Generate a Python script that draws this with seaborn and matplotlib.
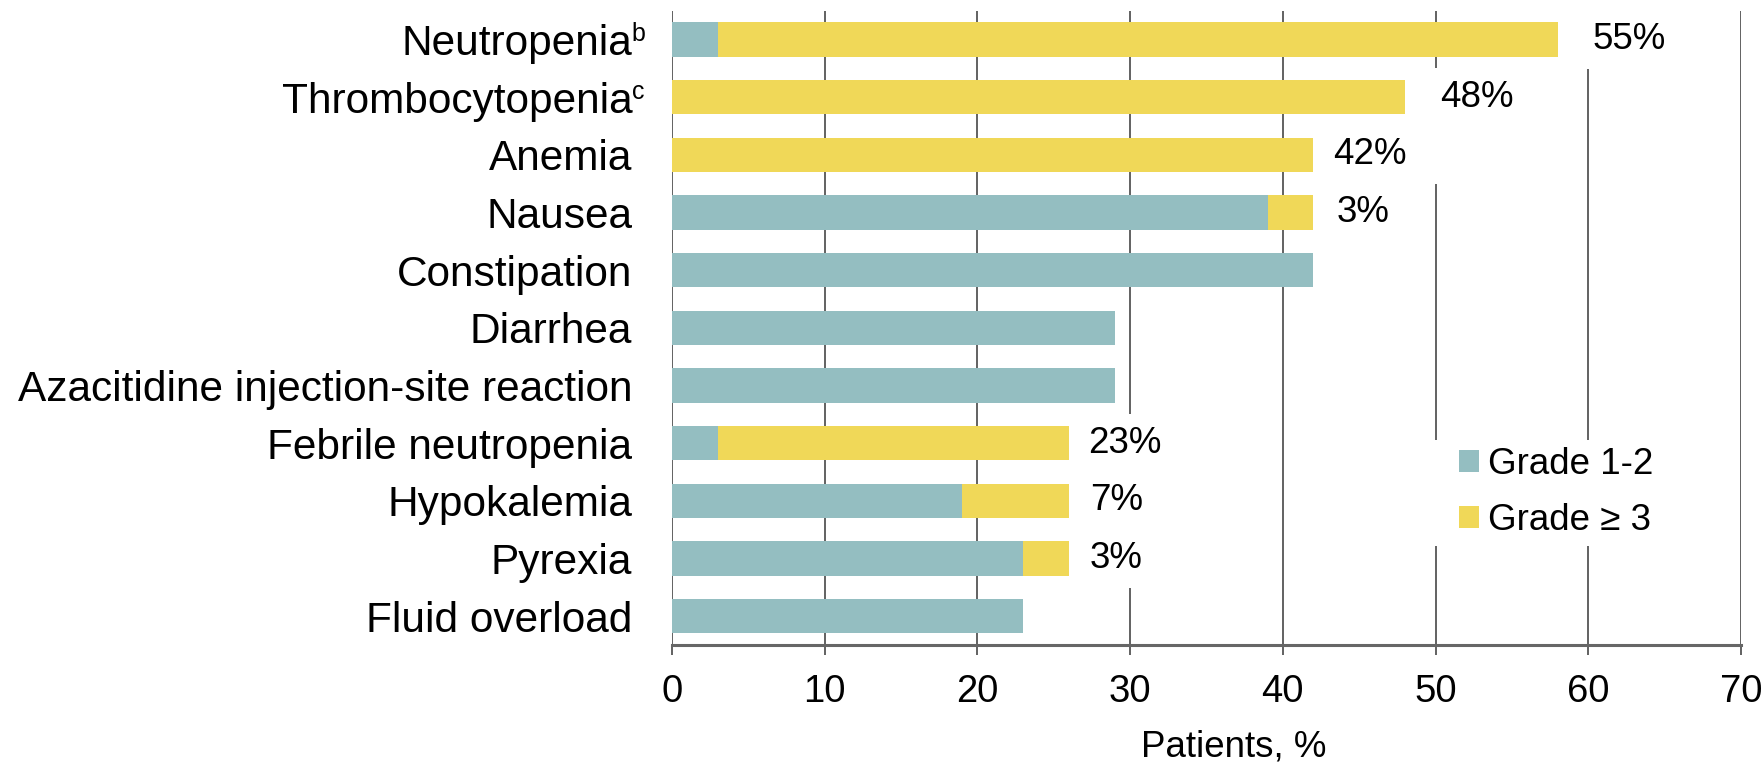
import matplotlib
matplotlib.use("Agg")
import matplotlib.pyplot as plt
from matplotlib.path import Path
from matplotlib.patches import Patch
import numpy as np
import pandas as pd
import seaborn as sns

# Adverse events and patient percentages by grade
events = [
    "Neutropenia",
    "Thrombocytopenia",
    "Anemia",
    "Nausea",
    "Constipation",
    "Diarrhea",
    "Azacitidine injection-site reaction",
    "Febrile neutropenia",
    "Hypokalemia",
    "Pyrexia",
    "Fluid overload",
]
footnotes = ["b", "c", "", "", "", "", "", "", "", "", ""]
grade_1_2 = [3, 0, 0, 39, 42, 29, 29, 3, 19, 23, 23]
grade_3_plus = [55, 48, 42, 3, 0, 0, 0, 23, 7, 3, 0]
x_ticks = [0, 10, 20, 30, 40, 50, 60, 70]
series_names = ["Grade 1-2", "Grade \u2265 3"]

# Gap between bar end and its value label (points)
label_gap = [25, 25, 14, 17, 0, 0, 0, 14, 15, 15, 0]

TEAL = "#94BEC1"
YELLOW = "#F0D858"
GRID = "#555555"

sns.set_style("white")
plt.rcParams["font.family"] = ["Liberation Sans", "DejaVu Sans"]
plt.rcParams["text.color"] = "black"
plt.rcParams["xtick.color"] = "black"
plt.rcParams["ytick.color"] = "black"
plt.rcParams["axes.labelcolor"] = "black"

df = pd.DataFrame({
    "event": events,
    "low": grade_1_2,
    "high": grade_3_plus,
})
df["total"] = df["low"] + df["high"]


def wide_box(x0, y0, width, height, mutation_size):
    """White backing box, wider than tall."""
    px = 0.95 * mutation_size
    py = 0.33 * mutation_size
    xa, xb = x0 - px, x0 + width + px
    ya, yb = y0 - py, y0 + height + py
    return Path([(xa, ya), (xb, ya), (xb, yb), (xa, yb), (xa, ya)], closed=True)


def legend_box(x0, y0, width, height, mutation_size):
    px = 0.6 * mutation_size
    xa, xb = x0 - px, x0 + width + px
    return Path([(xa, y0), (xb, y0), (xb, y0 + height), (xa, y0 + height), (xa, y0)],
                closed=True)


fig = plt.figure(figsize=(17.65, 7.62), dpi=100)
ax = fig.add_axes([0.3807, 0.1535, 0.6057, 0.8325])

# Stacked bars: total (grade >= 3 on top) then grade 1-2 from zero
sns.barplot(data=df, x="total", y="event", color=YELLOW, saturation=1,
            orient="h", width=0.6, errorbar=None, ax=ax)
sns.barplot(data=df, x="low", y="event", color=TEAL, saturation=1,
            orient="h", width=0.6, errorbar=None, ax=ax)
for p in ax.patches:
    p.set_zorder(2)
    p.set_linewidth(0)

ax.set_xlim(0, 70)
ax.set_xticks(x_ticks)
ax.set_xticklabels([str(t) for t in x_ticks])
ax.set_ylim(len(events) - 0.5, -0.5)

ax.grid(axis="x", color=GRID, linewidth=1.3)
ax.grid(axis="y", visible=False)
ax.set_axisbelow(True)

for side in ["top", "right", "left"]:
    ax.spines[side].set_visible(False)
ax.spines["bottom"].set_color("#666666")
ax.spines["bottom"].set_linewidth(2.2)
ax.spines["bottom"].set_zorder(3)

ax.tick_params(axis="x", direction="out", length=7, width=1.3, color=GRID,
               labelcolor="black", labelsize=27.5, pad=13.5, bottom=True)
ax.tick_params(axis="y", length=0, labelsize=30.5, labelcolor="black", pad=28.5)
ax.set_ylabel("")
ax.set_xlabel("Patients, %", fontsize=26.5, color="black")
ax.xaxis.set_label_coords(0.525, -0.133)

# Footnote markers on category labels
for i, fn in enumerate(footnotes):
    if fn:
        ax.annotate(fn, xy=(0, i), xycoords=("axes fraction", "data"),
                    xytext=(-29, -1), textcoords="offset points",
                    ha="left", va="baseline", fontsize=18, color="black")

# Value labels for grade >= 3
for i, (tot, hi) in enumerate(zip(df["total"], grade_3_plus)):
    if hi > 0:
        ax.annotate(f"{hi}%", xy=(tot, i), xytext=(label_gap[i], 0),
                    textcoords="offset points", ha="left", va="center",
                    fontsize=26.5, color="black", zorder=1,
                    bbox=dict(boxstyle=wide_box, facecolor="white",
                              edgecolor="none"))

handles = [Patch(facecolor=TEAL, edgecolor="none"),
           Patch(facecolor=YELLOW, edgecolor="none")]
leg = ax.legend(handles, series_names, loc="upper left",
                bbox_to_anchor=(0.712, 0.353), fontsize=26.5, frameon=True,
                framealpha=1, facecolor="white", edgecolor="none",
                borderpad=0.2, handlelength=0.55, handleheight=0.55,
                handletextpad=0.25, labelspacing=0.58, fancybox=False)
leg.legendPatch.set_boxstyle(legend_box)
for t in leg.get_texts():
    t.set_color("black")

fig.savefig("out.png", dpi=100, facecolor="white")
